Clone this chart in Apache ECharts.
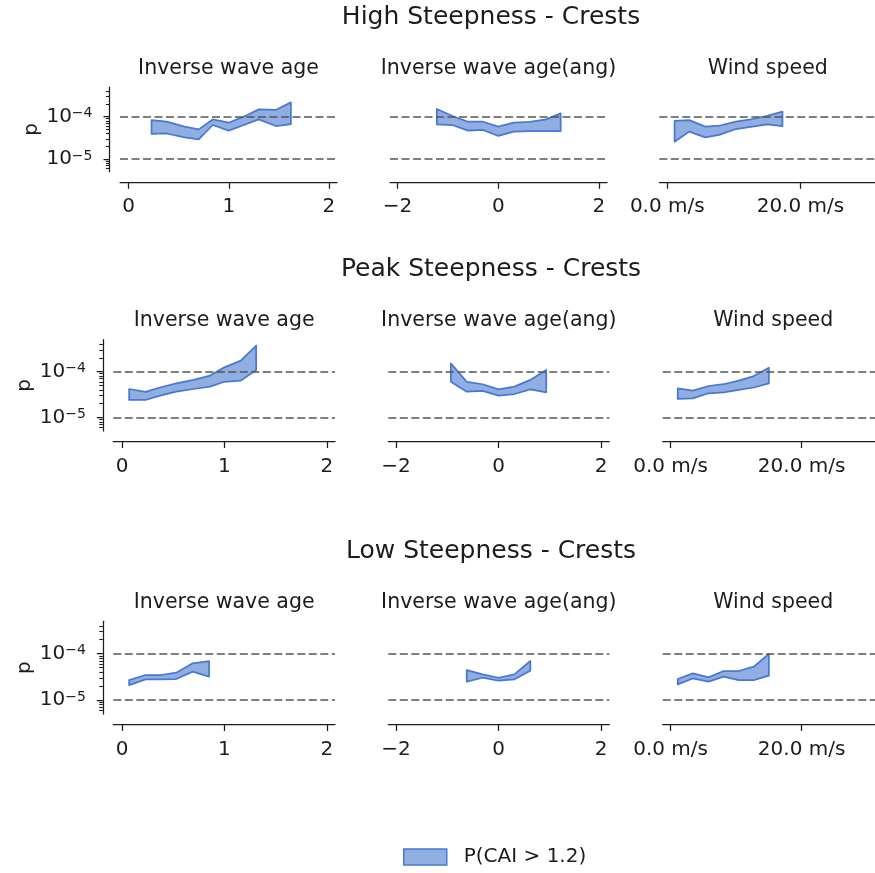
<!DOCTYPE html>
<html>
<head>
<meta charset="utf-8">
<script src="https://cdn.jsdelivr.net/npm/echarts@6/dist/echarts.min.js"></script>
<style>
  html, body { margin: 0; padding: 0; background: #fff; }
  #chart { width: 875px; height: 873px; }
</style>
</head>
<body>
<div id="chart"></div>
<script>
const rowTitles = ["High Steepness - Crests", "Peak Steepness - Crests", "Low Steepness - Crests"];
const colTitles = ["Inverse wave age", "Inverse wave age(ang)", "Wind speed"];
const seriesName = "P(CAI > 1.2)";
const refLevels = [1e-4, 1e-5];
const yTickValues = [1e-5, 1e-4];
const xTicksAge = [0, 1, 2];
const xTicksAng = [-2, 0, 2];
const xTicksWind = [0, 20];

// High steepness
const highAgeX = [0.23, 0.38, 0.56, 0.70, 0.84, 1.00, 1.15, 1.30, 1.47, 1.62];
const highAgeHi = [8.3e-5, 7.6e-5, 5.8e-5, 5.0e-5, 8.6e-5, 7.2e-5, 1.0e-4, 1.49e-4, 1.44e-4, 2.18e-4];
const highAgeLo = [3.9e-5, 4.0e-5, 3.25e-5, 2.92e-5, 6.35e-5, 4.67e-5, 6.35e-5, 8.65e-5, 6.0e-5, 6.7e-5];
const highAngX = [-1.22, -0.91, -0.60, -0.30, 0.0, 0.31, 0.63, 0.95, 1.24];
const highAngHi = [1.52e-4, 1.04e-4, 7.6e-5, 7.6e-5, 5.8e-5, 7.2e-5, 7.5e-5, 8.65e-5, 1.2e-4];
const highAngLo = [6.6e-5, 6.35e-5, 4.67e-5, 4.84e-5, 3.5e-5, 4.43e-5, 4.58e-5, 4.58e-5, 4.58e-5];
const highWindX = [1.1, 3.3, 5.7, 7.8, 10.3, 12.8, 15.0, 17.3];
const highWindHi = [7.9e-5, 8.3e-5, 5.8e-5, 6.1e-5, 7.6e-5, 8.8e-5, 1.04e-4, 1.31e-4];
const highWindLo = [2.56e-5, 4.43e-5, 3.25e-5, 3.7e-5, 5.1e-5, 5.8e-5, 6.6e-5, 6.0e-5];

// Peak steepness
const peakAgeX = [0.07, 0.23, 0.37, 0.53, 0.70, 0.86, 1.00, 1.16, 1.31];
const peakAgeHi = [4.17e-5, 3.6e-5, 4.5e-5, 5.56e-5, 6.6e-5, 8.2e-5, 1.24e-4, 1.74e-4, 3.7e-4];
const peakAgeLo = [2.4e-5, 2.4e-5, 2.98e-5, 3.65e-5, 4.17e-5, 4.7e-5, 6.0e-5, 6.35e-5, 1.09e-4];
const peakAngX = [-0.93, -0.62, -0.31, 0.0, 0.31, 0.62, 0.93];
const peakAngHi = [1.52e-4, 6.0e-5, 5.3e-5, 4.1e-5, 4.7e-5, 6.6e-5, 1.09e-4];
const peakAngLo = [6.0e-5, 3.65e-5, 3.78e-5, 2.98e-5, 3.24e-5, 4.1e-5, 3.52e-5];
const peakWindX = [1.1, 3.4, 5.8, 8.1, 10.4, 12.7, 15.0];
const peakWindHi = [4.3e-5, 3.84e-5, 4.85e-5, 5.3e-5, 6.35e-5, 8.0e-5, 1.22e-4];
const peakWindLo = [2.52e-5, 2.6e-5, 3.36e-5, 3.52e-5, 3.97e-5, 4.5e-5, 5.56e-5];

// Low steepness
const lowAgeX = [0.07, 0.23, 0.38, 0.53, 0.69, 0.85];
const lowAgeHi = [2.7e-5, 3.47e-5, 3.47e-5, 3.9e-5, 6.2e-5, 6.95e-5];
const lowAgeLo = [2.1e-5, 2.8e-5, 2.8e-5, 2.84e-5, 4.1e-5, 3.2e-5];
const lowAngX = [-0.62, -0.31, 0.0, 0.31, 0.62];
const lowAngHi = [4.43e-5, 3.58e-5, 3.03e-5, 3.58e-5, 6.95e-5];
const lowAngLo = [2.49e-5, 3.03e-5, 2.61e-5, 2.8e-5, 4.3e-5];
const lowWindX = [1.1, 3.4, 5.8, 8.1, 10.4, 12.7, 15.0];
const lowWindHi = [2.84e-5, 3.77e-5, 3.08e-5, 4.23e-5, 4.23e-5, 5.24e-5, 9.84e-5];
const lowWindLo = [2.18e-5, 2.94e-5, 2.49e-5, 3.19e-5, 2.7e-5, 2.7e-5, 3.35e-5];

const panels = [
  [{ x: highAgeX, lo: highAgeLo, hi: highAgeHi }, { x: highAngX, lo: highAngLo, hi: highAngHi }, { x: highWindX, lo: highWindLo, hi: highWindHi }],
  [{ x: peakAgeX, lo: peakAgeLo, hi: peakAgeHi }, { x: peakAngX, lo: peakAngLo, hi: peakAngHi }, { x: peakWindX, lo: peakWindLo, hi: peakWindHi }],
  [{ x: lowAgeX, lo: lowAgeLo, hi: lowAgeHi }, { x: lowAngX, lo: lowAngLo, hi: lowAngHi }, { x: lowWindX, lo: lowWindLo, hi: lowWindHi }]
];

// layout (pixels)
const rowLayout = [
  { top: 87.1, height: 84.6, suptitleY: 17, subtitleY: 69, lefts: [120, 390, 659.3], widths: [217, 217, 217] },
  { top: 339.7, height: 91.4, suptitleY: 269, subtitleY: 321, lefts: [113.3, 388.3, 662.7], widths: [221.7, 221, 221] },
  { top: 621.3, height: 92.7, suptitleY: 551, subtitleY: 603, lefts: [113.3, 388.3, 662.7], widths: [221.7, 221, 221] }
];
const colX = [
  { min: -0.085, max: 2.08, ticks: xTicksAge, fmt: v => String(v) },
  { min: -2.15, max: 2.16, ticks: xTicksAng, fmt: v => String(v).replace("-", "\u2212") },
  { min: -1.2, max: 31.2, ticks: xTicksWind, fmt: v => v.toFixed(1) + " m/s" }
];

const FONT = "DejaVu Sans";
const INK = "#1c1c1c";
const FILL = "rgba(72,120,208,0.6)";
const EDGE = "#4878d0";
const yMin = Math.log10(5e-6), yMax = Math.log10(5e-4);

// log-style minor tick positions
const minorTicks = [];
for (let e = -6; e <= -4; e++) {
  for (let k = 2; k <= 9; k++) {
    const v = Math.log10(k * Math.pow(10, e));
    if (v > yMin && v < yMax) minorTicks.push(v);
  }
}

const grids = [], xAxes = [], yAxes = [], series = [], graphics = [];

rowLayout.forEach((row, r) => {
  graphics.push({
    type: "text", x: 491, y: row.suptitleY,
    style: { text: rowTitles[r], font: "25px " + FONT, fill: INK, align: "center", verticalAlign: "middle" }
  });
  for (let c = 0; c < 3; c++) {
    const idx = r * 3 + c;
    const left = row.lefts[c], width = row.widths[c];
    grids.push({ left: left, top: row.top, width: width, height: row.height, containLabel: false });
    graphics.push({
      type: "text", x: left + width / 2, y: row.subtitleY,
      style: { text: colTitles[c], font: "20.5px " + FONT, fill: INK, align: "center", verticalAlign: "middle" }
    });
    const cx = colX[c];
    xAxes.push({
      type: "value", gridIndex: idx, min: cx.min, max: cx.max, offset: 10.5,
      splitLine: { show: false },
      axisLine: { show: true, onZero: false, lineStyle: { color: INK, width: 1.25 } },
      axisTick: { show: true, length: 6.5, customValues: cx.ticks, lineStyle: { color: INK, width: 1.25 } },
      axisLabel: { show: true, customValues: cx.ticks, formatter: cx.fmt, margin: 15, fontSize: 20, fontFamily: FONT, color: INK }
    });
    const isLeft = c === 0;
    yAxes.push({
      type: "value", gridIndex: idx, min: yMin, max: yMax, offset: 10.5,
      splitLine: { show: false },
      name: isLeft ? "p" : "", nameLocation: "middle", nameGap: 68,
      nameTextStyle: { fontSize: 20, fontFamily: FONT, color: INK },
      axisLine: { show: isLeft, onZero: false, lineStyle: { color: INK, width: 1.25 } },
      axisTick: { show: isLeft, length: 6, customValues: yTickValues.map(Math.log10), lineStyle: { color: INK, width: 1.25 } },
      axisLabel: {
        show: isLeft, customValues: yTickValues.map(Math.log10), margin: 17,
        formatter: v => {
          const e = Math.round(v);
          return "{a|10}{b|\u2212" + Math.abs(e) + "}";
        },
        rich: {
          a: { fontSize: 20, fontFamily: FONT, color: INK },
          b: { fontSize: 14, fontFamily: FONT, color: INK, verticalAlign: "top" }
        }
      }
    });

    const p = panels[r][c];
    series.push({
      type: "custom", name: seriesName, xAxisIndex: idx, yAxisIndex: idx,
      data: p.x.map((x, i) => [x, Math.log10(p.lo[i]), Math.log10(p.hi[i])]),
      encode: { x: 0, y: [1, 2] },
      itemStyle: { color: FILL, borderColor: EDGE },
      renderItem: (params, api) => {
        if (params.dataIndex !== 0) return;
        const upper = p.x.map((x, i) => api.coord([x, Math.log10(p.hi[i])]));
        const lower = p.x.map((x, i) => api.coord([x, Math.log10(p.lo[i])])).reverse();
        return {
          type: "polygon",
          shape: { points: upper.concat(lower) },
          style: { fill: FILL, stroke: EDGE, lineWidth: 1.75, lineJoin: "round" }
        };
      },
      markLine: {
        silent: true, symbol: "none",
        label: { show: false },
        lineStyle: { color: "#555", width: 1.5, type: [8, 3.5] },
        data: refLevels.map(v => ({ yAxis: Math.log10(v) }))
      },
      z: 3
    });
  }
});

// minor ticks for the left column
rowLayout.forEach((row, r) => {
  yAxes.push({
    type: "value", gridIndex: r * 3, min: yMin, max: yMax, offset: 10.5, position: "left",
    splitLine: { show: false },
    axisLine: { show: false, onZero: false },
    axisLabel: { show: false },
    axisTick: { show: true, length: 3.5, customValues: minorTicks, lineStyle: { color: INK, width: 1.1 } }
  });
});

const chart = echarts.init(document.getElementById("chart"), null, { renderer: "canvas" });
chart.setOption({
  animation: false,
  backgroundColor: "#fff",
  textStyle: { fontFamily: FONT },
  grid: grids,
  xAxis: xAxes,
  yAxis: yAxes,
  series: series,
  graphic: graphics,
  legend: {
    data: [{ name: seriesName, icon: "rect", itemStyle: { color: FILL, borderColor: EDGE, borderWidth: 1.5 } }],
    left: 403, top: 847, padding: 0,
    itemWidth: 43, itemHeight: 16,
    selectedMode: false,
    textStyle: { fontSize: 20, fontFamily: FONT, color: INK, padding: [0, 0, 0, 12] }
  }
});
</script>
</body>
</html>
